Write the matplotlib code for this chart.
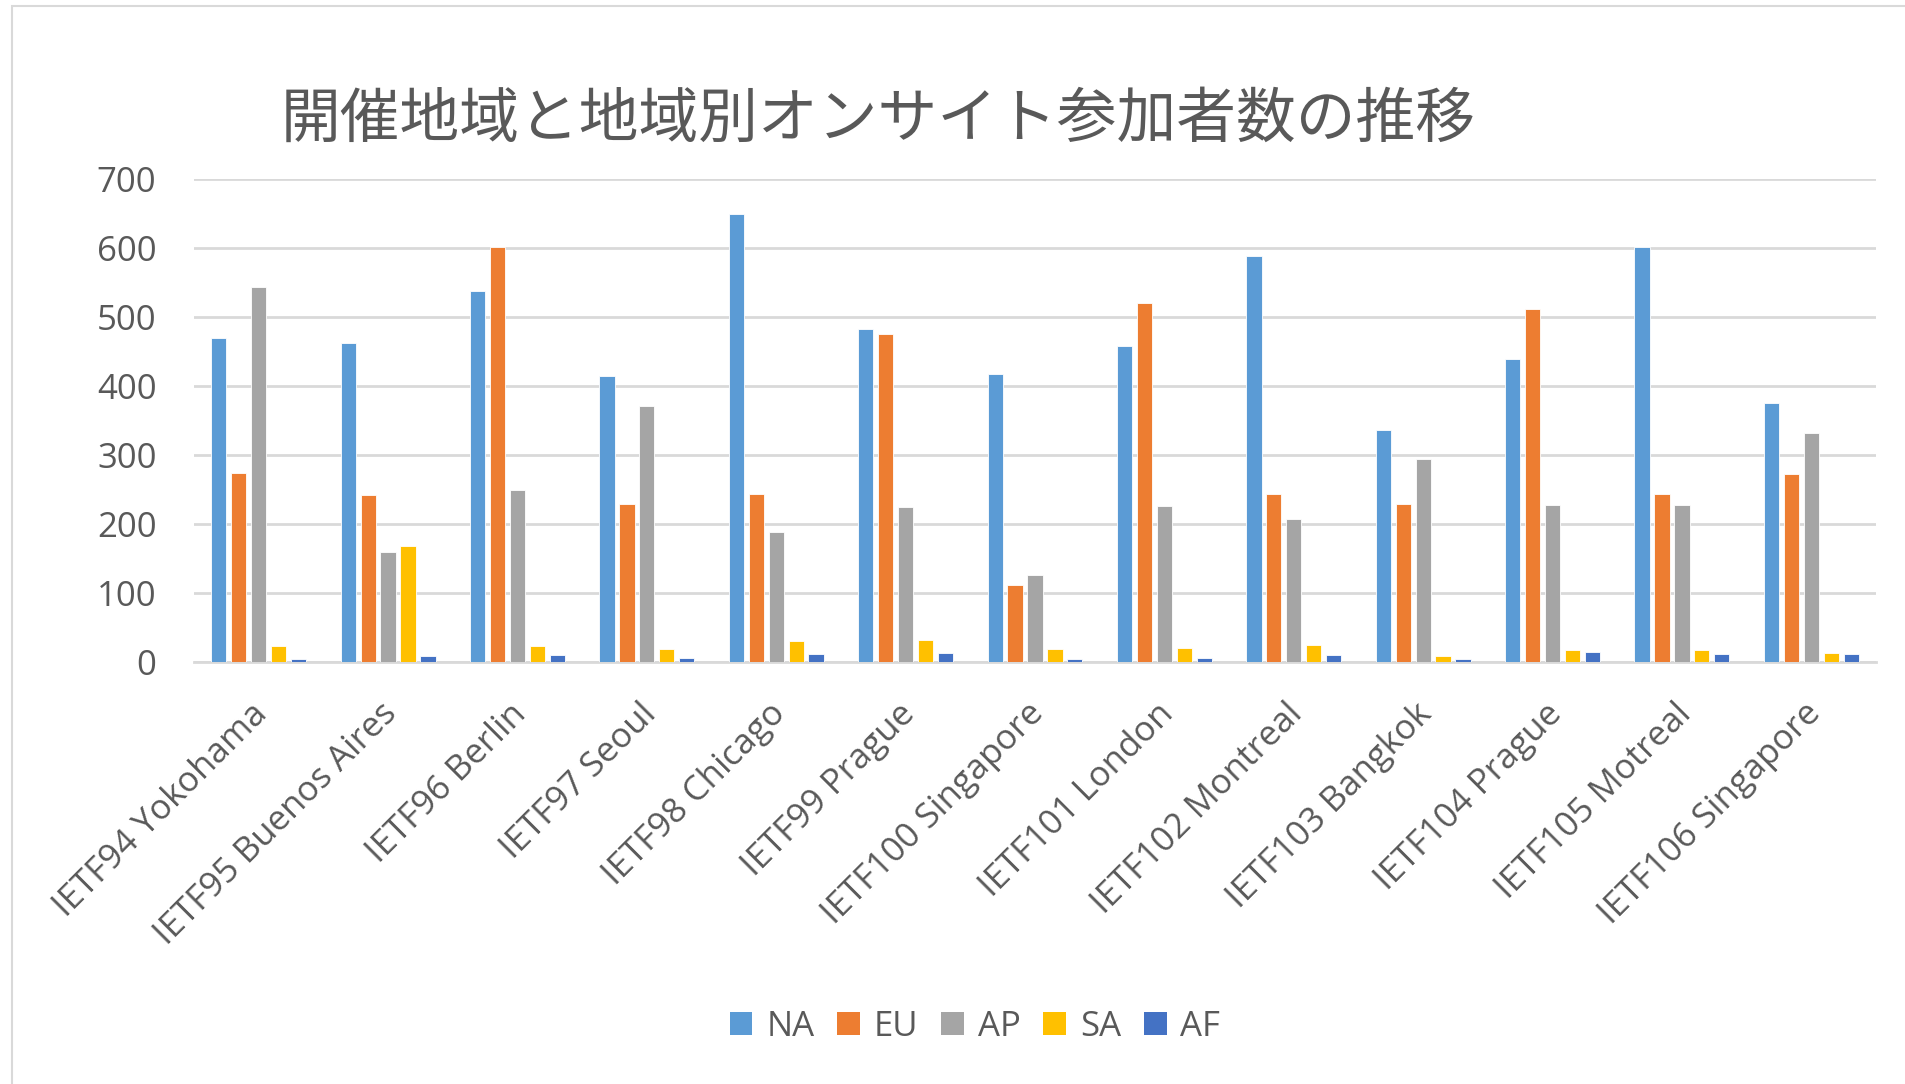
import matplotlib
matplotlib.use("Agg")
import matplotlib.pyplot as plt
import matplotlib.transforms as mtransforms
from matplotlib.patches import Rectangle, Patch
import numpy as np

categories = ["IETF94 Yokohama", "IETF95 Buenos Aires", "IETF96 Berlin", "IETF97 Seoul",
              "IETF98 Chicago", "IETF99 Prague", "IETF100 Singapore", "IETF101 London",
              "IETF102 Montreal", "IETF103 Bangkok", "IETF104 Prague", "IETF105 Motreal",
              "IETF106 Singapore"]
series_names = ["NA", "EU", "AP", "SA", "AF"]
NA = [470, 462, 537, 414, 649, 483, 418, 458, 588, 336, 439, 601, 376]
EU = [274, 242, 601, 229, 243, 475, 112, 520, 244, 229, 511, 243, 272]
AP = [543, 159, 249, 371, 189, 225, 126, 226, 207, 294, 228, 228, 332]
SA = [23, 168, 23, 19, 31, 32, 19, 20, 25, 9, 17, 18, 13]
AF = [5, 8, 10, 6, 12, 13, 5, 6, 10, 5, 14, 11, 12]
colors = ["#5B9BD5", "#ED7D31", "#A5A5A5", "#FFC000", "#4472C4"]
yticks = [0, 100, 200, 300, 400, 500, 600, 700]

W, H = 1906, 1084
fig = plt.figure(figsize=(W / 100, H / 100), dpi=100)
fig.patch.set_facecolor("white")

# outer chart border
fig.add_artist(Rectangle((12 / W, -0.05), 2.0, 1 - 6 / H + 0.05, transform=fig.transFigure,
                         fill=False, edgecolor="#d9d9d9", linewidth=1.5))

ax = fig.add_axes([194 / W, 1 - 662 / H, (1876 - 194) / W, (662 - 179) / H])
textc = "#595959"
font = "Open Sans"

x = np.arange(len(categories))
pitch = 0.154
bw = 0.118
for i, (name, vals) in enumerate(zip(series_names, [NA, EU, AP, SA, AF])):
    ax.bar(x + (i - 2) * pitch, vals, width=bw, color=colors[i], label=name,
           edgecolor="white", linewidth=0.6, zorder=3)

ax.set_xlim(-0.5, len(categories) - 0.5)
ax.set_ylim(0, 700)
ax.set_yticks(yticks)
ax.set_yticklabels([str(v) for v in yticks], fontsize=25, color=textc, family=font)
ax.tick_params(axis="y", length=0, pad=27)
ax.tick_params(axis="x", length=0, pad=25)
ax.set_xticks(x)
ax.set_xticklabels(categories, rotation=45, ha="right", va="top", rotation_mode="anchor",
                   fontsize=25, color=textc, family=font)
offset = mtransforms.ScaledTranslation(-8 / 100, 0, fig.dpi_scale_trans)
for lab in ax.get_xticklabels():
    lab.set_transform(lab.get_transform() + offset)

ax.grid(axis="y", color="#d9d9d9", linewidth=2, zorder=0)
for s in ["top", "right", "left"]:
    ax.spines[s].set_visible(False)
ax.spines["bottom"].set_color("#d9d9d9")
ax.spines["bottom"].set_linewidth(2)
ax.set_facecolor("none")

fig.text(878 / W, 1 - 120 / H, "開催地域と地域別オンサイト参加者数の推移",
         ha="center", va="center", fontsize=43, color=textc,
         family=["Noto Sans CJK JP", "DejaVu Sans"])

handles = [Patch(facecolor=c, edgecolor="none", label=n) for c, n in zip(colors, series_names)]
leg = fig.legend(handles=handles, loc="center", bbox_to_anchor=(975 / W, 1 - 1027 / H), ncol=5,
                 frameon=False, prop={"family": font, "size": 25}, handlelength=0.65,
                 handleheight=0.65, handletextpad=0.4, columnspacing=0.66)
for t in leg.get_texts():
    t.set_color(textc)

fig.savefig("out.png", dpi=100, facecolor="white")
